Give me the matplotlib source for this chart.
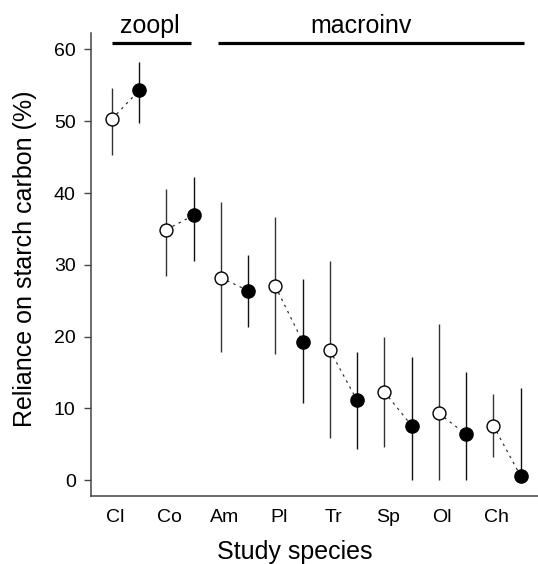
import numpy as np
import matplotlib
matplotlib.use("Agg")
import matplotlib.pyplot as plt

plt.rcParams['font.family'] = ['Liberation Sans', 'DejaVu Sans']

species = ['Cl', 'Co', 'Am', 'Pl', 'Tr', 'Sp', 'Ol', 'Ch']
# open circles (first of each pair)
open_mean = [50.3, 34.9, 28.2, 27.0, 18.1, 12.3, 9.3, 7.6]
open_lo = [45.3, 28.4, 17.8, 17.6, 5.9, 4.6, 0.0, 3.2]
open_hi = [54.6, 40.5, 38.7, 36.6, 30.6, 20.0, 21.7, 12.0]
# filled circles (second of each pair)
filled_mean = [54.3, 36.9, 26.4, 19.3, 11.1, 7.6, 6.4, 0.6]
filled_lo = [49.8, 30.6, 21.4, 10.7, 4.3, 0.0, 0.0, 0.0]
filled_hi = [58.3, 42.3, 31.4, 28.0, 17.9, 17.2, 15.1, 12.8]

groups = ['zoopl', 'macroinv']
group_span = [(-0.01, 2.9), (3.88, 15.13)]
group_text_x = [1.40, 9.16]

n = len(species)
x_open = np.arange(n) * 2.0
x_filled = x_open + 1.0

fig = plt.figure(figsize=(5.38, 5.64), dpi=100)
ax = fig.add_axes([0.1691, 0.1206, 0.8309, 0.8204])

# dashed links within each pair
for i in range(n):
    ax.plot([x_open[i], x_filled[i]], [open_mean[i], filled_mean[i]],
            color='#333333', lw=0.9, dashes=(2, 3.5), zorder=1)

# error bars
ax.vlines(x_open, open_lo, open_hi, color='#333333', lw=1.0, zorder=2)
ax.vlines(x_filled, filled_lo, filled_hi, color='#111111', lw=1.0, zorder=2)

ax.plot(x_open, open_mean, 'o', ms=9.3, mfc='white', mec='black', mew=1.0,
        ls='none', zorder=3)
ax.plot(x_filled, filled_mean, 'o', ms=9.5, mfc='black', mec='black',
        ls='none', zorder=3)

# group brackets on top
for g, (a, b), tx in zip(groups, group_span, group_text_x):
    ax.plot([a, b], [60.85, 60.85], color='black', lw=2.3, clip_on=False,
            solid_capstyle='butt')
    ax.text(tx, 62.3, g, ha='center', va='baseline', fontsize=18)

ax.set_xlim(-0.77, 15.64)
ax.set_ylim(-2.2, 62.25)
ax.set_yticks([0, 10, 20, 30, 40, 50, 60])
ax.set_xticks(x_open + 0.12)
ax.set_xticklabels(species)
ax.tick_params(axis='y', length=5, width=1, color='#444444', labelsize=14, pad=6)
ax.tick_params(axis='x', length=0, labelsize=14, pad=9.5)

for s in ['top', 'right']:
    ax.spines[s].set_visible(False)
for s in ['left', 'bottom']:
    ax.spines[s].set_color('#444444')
    ax.spines[s].set_linewidth(1.1)

fig.text(0.548, 0.0089, 'Study species', ha='center', va='baseline', fontsize=18)
fig.text(0.0242, 0.5408, 'Reliance on starch carbon (%)', rotation=90,
         ha='left', va='center', fontsize=18)

fig.savefig('out.png', dpi=100)
